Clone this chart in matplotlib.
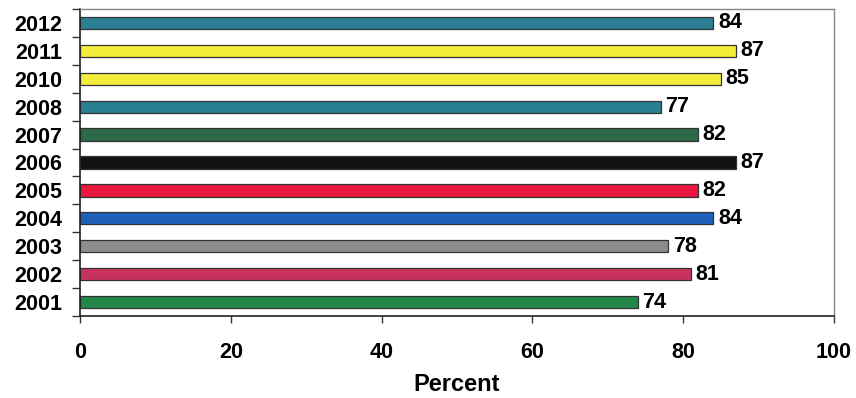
import matplotlib
matplotlib.use("Agg")
import matplotlib.pyplot as plt
import numpy as np

years = ["2001", "2002", "2003", "2004", "2005", "2006", "2007", "2008", "2010", "2011", "2012"]
values = [74, 81, 78, 84, 82, 87, 82, 77, 85, 87, 84]
colors = ["#24874a", "#c8335e", "#8c8c8c", "#1c5fb8", "#e8183e", "#111111",
          "#2d6a47", "#2a7f92", "#f4ee3a", "#f4ee3a", "#2a7f92"]
xticks = [0, 20, 40, 60, 80, 100]

plt.rcParams['font.family'] = ['Liberation Sans', 'DejaVu Sans']
plt.rcParams['font.weight'] = 'bold'

fig = plt.figure(figsize=(8.56, 3.98), dpi=100)
ax = fig.add_axes([80/856, 1-316/398, (834-80)/856, (316-9)/398])

y = np.arange(len(years))
ax.barh(y, values, height=0.44, color=colors, edgecolor="#333333", linewidth=0.9)
for yi, v in zip(y, values):
    ax.text(v + 0.6, yi, str(v), va="center", ha="left", fontsize=15.5, fontweight="bold")

ax.set_xlim(0, 100)
ax.set_ylim(-0.5, len(years) - 0.5)
ax.set_xticks(xticks)
ax.set_xticklabels([str(t) for t in xticks], fontsize=15.5, fontweight="bold")
ax.set_yticks(y)
ax.set_yticklabels(years, fontsize=15.5, fontweight="bold")
ax.tick_params(axis="y", length=0, pad=13)
ax.set_yticks(np.arange(-0.5, len(years), 1), minor=True)
ax.tick_params(axis="y", which="minor", length=6, width=1, color="#333333", direction="out")
ax.tick_params(axis="x", length=5, width=1, color="#333333", direction="out", pad=14)
ax.set_xlabel("Percent", fontsize=17, fontweight="bold", labelpad=7)

for s in ["left", "bottom"]:
    ax.spines[s].set_color("#222222")
    ax.spines[s].set_linewidth(1.2)
for s in ["top", "right"]:
    ax.spines[s].set_color("#888888")
    ax.spines[s].set_linewidth(1.0)

fig.savefig("out.png", dpi=100)
